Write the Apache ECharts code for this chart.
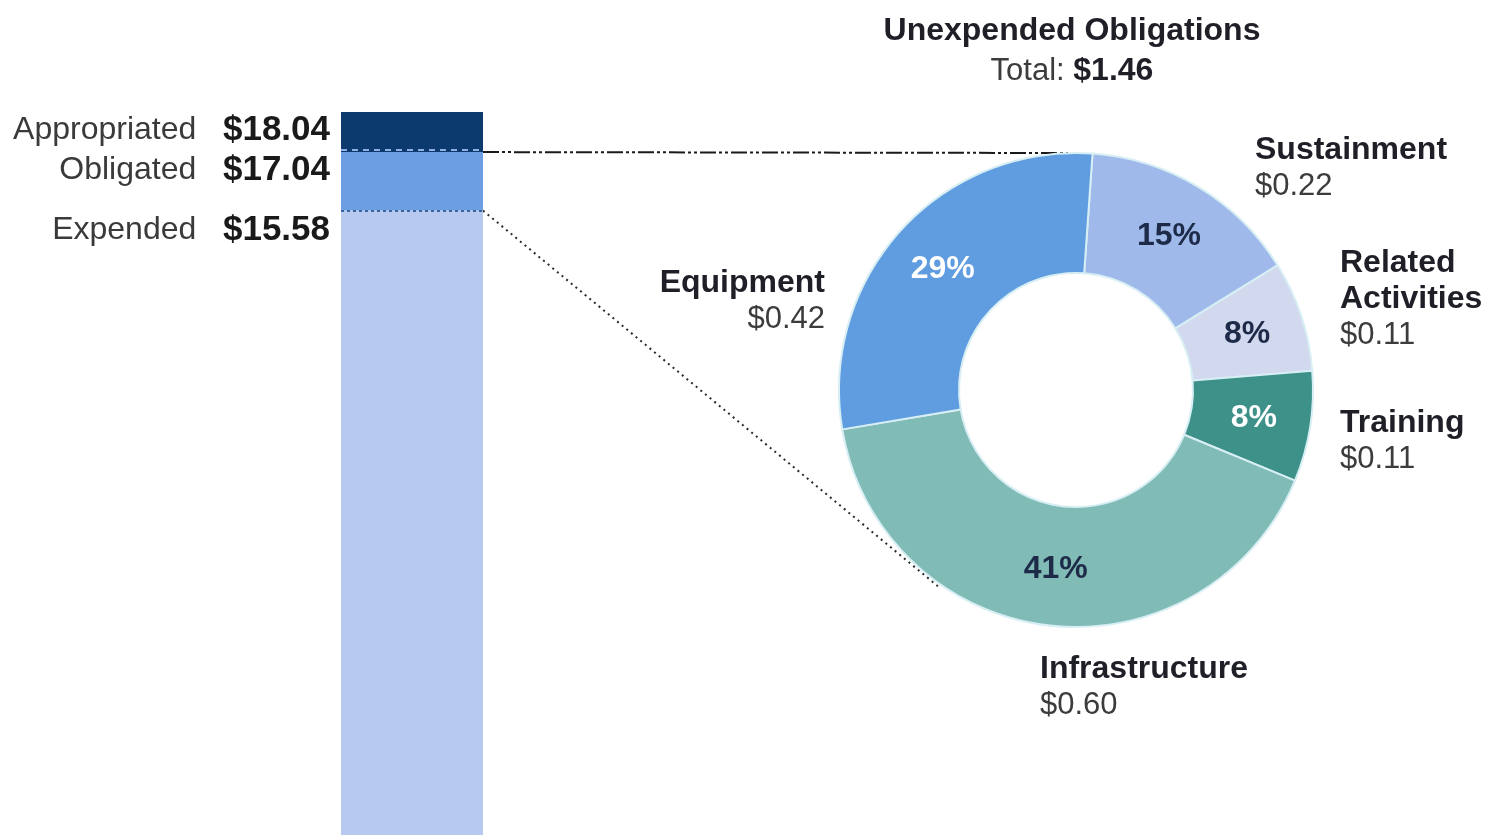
<!DOCTYPE html>
<html><head><meta charset="utf-8">
<script src="https://cdn.jsdelivr.net/npm/echarts@6/dist/echarts.min.js"></script>
<style>html,body{margin:0;padding:0;background:#fff}#c{width:1493px;height:839px}</style>
</head><body><div id="c"></div>
<script>
// ---- data ----
const barStages = ['Expended', 'Obligated', 'Appropriated'];
const barTotals = [15.58, 17.04, 18.04];
const sliceNames = ['Sustainment', 'Related\nActivities', 'Training', 'Infrastructure', 'Equipment'];
const sliceValues = [0.22, 0.11, 0.11, 0.60, 0.42];
const donutTitle = 'Unexpended Obligations';
const totalLabel = 'Total: ';

// ---- styles / layout ----
const FONT = "'Liberation Sans', Arial, sans-serif";
const barColors = ['#b8c9ef', '#6b9fe2', '#0c3a6f'];
const sliceColors = ['#9fbaea', '#d2d9ef', '#3d9189', '#80bbb6', '#5f9ce0'];
const pctColors = ['#1e2b48', '#1e2b48', '#ffffff', '#1e2b48', '#ffffff'];
const barLabelY = [230, 170, 130];
const sliceLabelPos = [
  {x: 1255, y: 132, align: 'left'},
  {x: 1340, y: 245, align: 'left'},
  {x: 1340, y: 405, align: 'left'},
  {x: 1040, y: 651, align: 'left'},
  {x: 825, y: 265, align: 'right'}
];
const PIE_C = [1076, 390];
const PIE_R = [117, 237];

const fmt = v => '$' + v.toFixed(2);
const total = sliceValues.reduce((a, b) => a + b, 0);

const chart = echarts.init(document.getElementById('c'), null, {renderer: 'canvas'});

const stackSeries = barStages.map((name, i) => ({
  name: name,
  type: 'bar',
  stack: 'funds',
  barWidth: '100%',
  data: [i === 0 ? barTotals[0] : +(barTotals[i] - barTotals[i - 1]).toFixed(2)],
  itemStyle: {color: barColors[i]},
  label: {
    show: true,
    position: 'left',
    formatter: '{n|' + name + '   }{v|' + fmt(barTotals[i]) + '}',
    rich: {
      n: {fontFamily: FONT, fontSize: 32, color: '#3a3a3a'},
      v: {fontFamily: FONT, fontSize: 35, fontWeight: 'bold', color: '#1a1a1a'}
    }
  },
  labelLayout: {x: 330, y: barLabelY[i], align: 'right', verticalAlign: 'middle'},
  markLine: i === 0 ? {
    silent: true, symbol: 'none', label: {show: false},
    lineStyle: {color: '#3c64a0', type: [3, 3], width: 2},
    data: [{yAxis: barTotals[0]}]
  } : (i === 1 ? {
    silent: true, symbol: 'none', label: {show: false},
    lineStyle: {color: '#8fb0e0', type: [6, 5], width: 2},
    data: [{yAxis: barTotals[1] + 0.05}]
  } : undefined)
}));

const pieData = sliceNames.map((n, i) => ({
  name: n, value: sliceValues[i],
  itemStyle: {color: sliceColors[i]},
  label: {color: pctColors[i]}
}));

const option = {
  backgroundColor: '#ffffff',
  animation: false,
  grid: {left: 341, width: 142, top: 112, bottom: 4},
  xAxis: {type: 'category', data: ['Funds'], show: false},
  yAxis: {type: 'value', min: 0, max: barTotals[2], show: false},
  series: stackSeries.concat([
    {
      type: 'pie', z: 3,
      center: PIE_C, radius: PIE_R, startAngle: 86, clockwise: true,
      avoidLabelOverlap: false,
      emphasis: {disabled: true},
      itemStyle: {borderColor: '#d6eef4', borderWidth: 2},
      data: pieData,
      label: {
        show: true, position: 'inside',
        fontFamily: FONT, fontSize: 32, fontWeight: 'bold',
        formatter: p => Math.round(p.value / total * 100) + '%'
      },
      labelLine: {show: false}
    },
    {
      type: 'pie', z: 4, silent: true,
      center: PIE_C, radius: PIE_R, startAngle: 86, clockwise: true,
      avoidLabelOverlap: false,
      emphasis: {disabled: true},
      itemStyle: {color: 'rgba(0,0,0,0)'},
      data: sliceNames.map((n, i) => ({name: n, value: sliceValues[i]})),
      label: {
        show: true, position: 'outside',
        formatter: p => {
          const r = sliceLabelPos[p.dataIndex].align === 'right' ? 'R' : '';
          return p.name.split('\n').map(s => '{n' + r + '|' + s + '}').join('\n') +
            '\n{v' + r + '|' + fmt(p.value) + '}';
        },
        rich: {
          n: {fontFamily: FONT, fontSize: 32, fontWeight: 'bold', color: '#1f1f28', lineHeight: 36},
          v: {fontFamily: FONT, fontSize: 31, color: '#3c3c3c', lineHeight: 36},
          nR: {fontFamily: FONT, fontSize: 32, fontWeight: 'bold', color: '#1f1f28', lineHeight: 36, align: 'right'},
          vR: {fontFamily: FONT, fontSize: 31, color: '#3c3c3c', lineHeight: 36, align: 'right'}
        }
      },
      labelLine: {show: false},
      labelLayout: p => {
        const s = sliceLabelPos[p.dataIndex];
        return {x: s.x, y: s.y, align: s.align, verticalAlign: 'top'};
      }
    }
  ])
};
chart.setOption(option);

// connectors and donut title, derived from the axis scale and donut geometry
const xAxisModel = chart.getModel().getComponent('xAxis', 0);
const bandW = xAxisModel.axis.getBandWidth();
const pObl = chart.convertToPixel({gridIndex: 0}, [0, barTotals[1]]);
const pExp = chart.convertToPixel({gridIndex: 0}, [0, barTotals[0]]);
const barRight = pObl[0] + bandW / 2;
const ang = 125 * Math.PI / 180;
chart.setOption({
  graphic: [
    {
      type: 'line', z: 1,
      shape: {x1: barRight, y1: pObl[1], x2: PIE_C[0] - 8, y2: PIE_C[1] - PIE_R[1]},
      style: {stroke: '#1a1a1a', lineWidth: 2, lineDash: [16, 3, 3, 3, 3, 3]}
    },
    {
      type: 'line', z: 1,
      shape: {x1: barRight, y1: pExp[1], x2: PIE_C[0] + (PIE_R[1] + 3) * Math.cos(ang), y2: PIE_C[1] + (PIE_R[1] + 3) * Math.sin(ang)},
      style: {stroke: '#2a2a2a', lineWidth: 2, lineDash: [2, 4]}
    },
    {
      type: 'text', z: 5,
      x: PIE_C[0] - 4, y: 11,
      style: {
        text: '{b|' + donutTitle + '}\n{r|' + totalLabel + '}{v|' + fmt(total) + '}',
        align: 'center', verticalAlign: 'top',
        rich: {
          b: {fontFamily: FONT, fontSize: 32, fontWeight: 'bold', fill: '#1f1f28', lineHeight: 40, align: 'center'},
          r: {fontFamily: FONT, fontSize: 31, fill: '#3c3c3c', lineHeight: 40},
          v: {fontFamily: FONT, fontSize: 32, fontWeight: 'bold', fill: '#1f1f28', lineHeight: 40}
        }
      }
    }
  ]
});
</script>
</body></html>
